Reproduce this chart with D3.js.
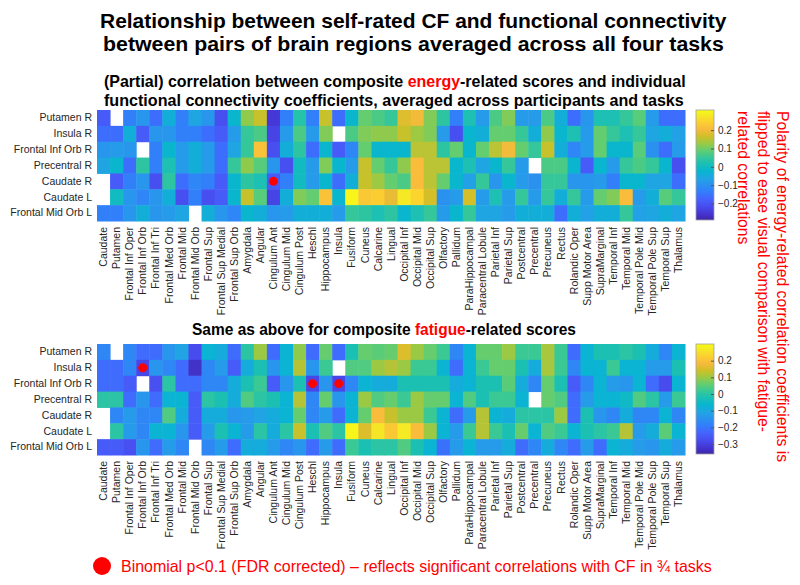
<!DOCTYPE html>
<html><head><meta charset="utf-8">
<script src="https://cdn.jsdelivr.net/npm/d3@7"></script>
<style>body{margin:0;background:#fff;} svg{display:block;font-family:"Liberation Sans",Arial,sans-serif;}</style>
</head><body><svg id="c" width="800" height="585"></svg>
<script>
const rowLabels = ["Putamen R","Insula R","Frontal Inf Orb R","Precentral R","Caudate R","Caudate L","Frontal Mid Orb L"];
const colLabels = ["Caudate","Putamen","Frontal Inf Oper","Frontal Inf Orb","Frontal Inf Tri","Frontal Med Orb","Frontal Mid","Frontal Mid Orb","Frontal Sup","Frontal Sup Medial","Frontal Sup Orb","Amygdala","Angular","Cingulum Ant","Cingulum Mid","Cingulum Post","Heschl","Hippocampus","Insula","Fusiform","Cuneus","Calcarine","Lingual","Occipital Inf","Occipital Mid","Occipital Sup","Olfactory","Pallidum","ParaHippocampal","Paracentral Lobule","Parietal Inf","Parietal Sup","Postcentral","Precentral","Precuneus","Rectus","Rolandic Oper","Supp Motor Area","SupraMarginal","Temporal Inf","Temporal Mid","Temporal Pole Mid","Temporal Pole Sup","Temporal Sup","Thalamus"];

// energy-related (polarity flipped) correlations, one array per row
const energyPutamenR = [-0.19,null,-0.13,-0.09,-0.16,-0.04,-0.13,-0.06,-0.09,-0.21,-0.02,0.12,0.16,-0.25,-0.13,0.03,-0.13,0.16,-0.16,-0.02,0.09,0.07,0.05,0.18,0.2,0.11,0.04,-0.13,0.02,-0.08,0.07,0.11,-0.08,-0.08,0.07,-0.04,-0.16,-0.09,0.02,0.02,0.05,0.08,-0.08,-0.16,-0.16];
const energyInsulaR = [-0.16,-0.16,-0.04,-0.19,-0.09,-0.09,-0.13,-0.13,-0.16,-0.19,-0.08,0.05,0.07,-0.23,-0.08,0.07,-0.08,0.11,null,0.07,0.11,0.12,0.12,0.16,0.13,0.11,-0.08,-0.21,-0.02,-0.04,0.09,0.09,0.05,-0.04,0.12,-0.02,0.02,-0.08,0.09,0.05,0.02,0.05,-0.06,-0.04,-0.07];
const energyFrontalInfOrbR = [-0.09,-0.08,-0.09,null,-0.13,-0.02,-0.08,-0.04,-0.08,-0.16,-0.06,0.05,0.22,-0.21,-0.04,0.04,-0.16,-0.02,-0.19,-0.12,0.09,-0.02,-0.02,-0.02,0.15,0.15,0.04,0.09,-0.02,0.09,0.15,0.2,0.09,0.05,0.16,-0.04,-0.12,-0.08,0.09,-0.02,-0.02,0.08,-0.1,-0.16,-0.08];
const energyPrecentralR = [-0.06,-0.02,-0.16,0.04,-0.13,0.02,-0.08,-0.04,-0.08,-0.16,0.05,0.12,0.08,-0.09,-0.21,0.0,-0.08,0.11,-0.02,-0.08,0.16,0.09,0.05,0.12,0.21,0.15,0.15,-0.02,0.02,-0.06,-0.02,0.05,-0.08,null,0.07,0.07,-0.02,-0.19,-0.02,-0.08,0.05,0.07,0.05,-0.02,-0.21];
const energyCaudateR = [null,-0.19,-0.13,-0.09,-0.21,0.04,-0.16,-0.12,-0.13,-0.19,-0.02,0.04,0.02,-0.19,-0.13,0.0,-0.08,-0.02,-0.16,-0.04,0.16,0.13,0.09,0.07,0.21,0.15,0.09,-0.02,-0.07,0.05,-0.09,-0.02,-0.08,-0.1,0.05,0.05,-0.09,-0.09,-0.08,-0.13,-0.02,-0.02,-0.06,-0.06,-0.16];
const energyCaudateL = [null,0.0,-0.09,-0.12,-0.09,-0.04,-0.21,-0.13,-0.21,-0.19,-0.02,0.16,0.08,-0.23,-0.04,0.11,0.09,0.22,-0.02,0.30,0.23,0.24,0.19,0.28,0.25,0.17,-0.1,-0.08,0.17,-0.08,0.02,-0.08,0.05,-0.08,0.05,-0.04,0.05,-0.08,0.09,0.11,0.21,-0.08,-0.04,0.08,0.05];
const energyFrontalMidOrbL = [-0.13,-0.13,-0.09,-0.04,-0.09,-0.08,-0.06,null,-0.04,-0.09,-0.12,-0.02,-0.04,-0.09,-0.08,-0.04,-0.04,-0.04,-0.08,0.05,0.04,0.02,0.04,-0.02,0.02,0.05,-0.08,-0.02,0.05,-0.06,-0.06,-0.08,-0.04,-0.04,-0.04,-0.16,-0.04,-0.07,-0.04,-0.04,0.05,-0.07,-0.06,-0.04,-0.06];

// fatigue-related correlations, one array per row
const fatiguePutamenR = [-0.17,null,-0.17,-0.22,-0.22,-0.14,-0.11,-0.28,-0.07,-0.09,-0.22,0.0,0.1,-0.22,-0.07,0.09,-0.22,0.06,-0.22,-0.02,0.06,0.05,0.06,0.155,0.1,0.06,0.02,-0.17,-0.07,0.06,0.06,0.1,0.02,0.02,0.11,0.02,-0.22,-0.07,-0.02,-0.02,0.0,-0.02,-0.09,-0.17,-0.07];
const fatigueInsulaR = [-0.22,-0.22,-0.17,-0.29,-0.14,-0.17,-0.22,-0.33,-0.17,-0.13,-0.25,-0.09,-0.02,-0.14,-0.07,0.12,-0.14,0.02,null,0.04,0.04,0.1,0.12,0.1,0.02,0.02,-0.07,-0.22,-0.07,0.02,0.06,0.06,-0.02,-0.09,0.11,0.02,-0.17,-0.07,-0.07,0.02,-0.07,-0.07,-0.13,-0.13,-0.02];
const fatigueFrontalInfOrbR = [-0.22,-0.22,-0.25,null,-0.27,0.0,-0.22,-0.22,-0.17,-0.17,-0.09,-0.02,0.02,-0.25,-0.14,-0.02,-0.29,-0.14,-0.29,-0.17,-0.07,-0.09,-0.09,-0.02,-0.02,-0.02,-0.02,-0.09,-0.07,-0.02,-0.02,0.05,-0.09,-0.17,0.06,-0.02,-0.25,-0.17,-0.07,-0.13,-0.14,-0.07,-0.22,-0.28,-0.07];
const fatiguePrecentralR = [0.0,0.0,-0.22,-0.14,-0.22,-0.07,-0.07,-0.25,0.0,-0.02,-0.09,0.04,0.0,-0.02,-0.07,0.12,-0.17,0.06,-0.14,-0.07,0.1,0.04,0.06,0.02,0.1,0.06,0.06,-0.07,0.04,-0.02,0.02,0.02,-0.07,null,0.06,0.04,-0.22,-0.13,-0.07,-0.07,-0.05,0.04,0.0,-0.13,0.02];
const fatigueCaudateR = [null,-0.17,-0.13,-0.17,-0.17,0.04,-0.09,-0.25,-0.09,-0.09,-0.14,-0.13,-0.11,-0.09,-0.07,0.06,-0.17,-0.13,-0.22,-0.07,0.06,0.19,0.135,0.1,0.1,0.02,-0.07,-0.22,-0.13,0.12,-0.07,-0.09,0.0,0.0,0.0,0.1,-0.22,-0.02,-0.14,-0.17,-0.09,-0.17,-0.17,-0.07,-0.17];
const fatigueCaudateL = [null,0.0,-0.13,-0.17,-0.07,-0.07,-0.14,-0.25,-0.13,-0.02,-0.07,-0.13,0.0,-0.09,0.0,0.135,-0.02,0.04,0.0,0.29,0.155,0.26,0.21,0.27,0.19,0.1,-0.07,-0.13,0.02,0.12,0.02,-0.02,0.06,-0.07,0.04,0.02,-0.07,-0.02,0.0,0.02,0.12,-0.13,-0.09,0.05,-0.07];
const fatigueFrontalMidOrbL = [-0.25,-0.25,-0.27,-0.14,-0.22,-0.13,-0.17,null,-0.17,-0.13,-0.22,-0.09,-0.09,-0.13,-0.17,-0.14,-0.22,-0.13,-0.22,0.02,-0.02,0.0,0.0,0.04,-0.02,-0.07,-0.21,-0.13,-0.07,-0.13,-0.13,-0.09,-0.22,-0.17,-0.09,-0.17,-0.22,-0.13,-0.22,-0.07,-0.09,-0.13,-0.14,-0.09,-0.13];

const energyRows = [energyPutamenR, energyInsulaR, energyFrontalInfOrbR, energyPrecentralR, energyCaudateR, energyCaudateL, energyFrontalMidOrbL];
const fatigueRows = [fatiguePutamenR, fatigueInsulaR, fatigueFrontalInfOrbR, fatiguePrecentralR, fatigueCaudateR, fatigueCaudateL, fatigueFrontalMidOrbL];

const energyDomain = [-0.29, 0.31];
const fatigueDomain = [-0.36, 0.30];
const energyTicks = [0.2, 0.1, 0, -0.1, -0.2];
const fatigueTicks = [0.2, 0.1, 0, -0.1, -0.2, -0.3];
// significant cells [row, column]
const energySig = [["Caudate R","Cingulum Ant"]];
const fatigueSig = [["Insula R","Frontal Inf Orb"],["Frontal Inf Orb R","Heschl"],["Frontal Inf Orb R","Insula"]];

const parulaPos = [0,4,8,12,16,20,24,28,32,36,40,44,48,52,56,60,63].map(k => k/63);
const parulaCol = ["#3e26a8","#4537d5","#484df0","#4563fd","#327cfc","#2b91ef","#20a5e3","#08b5d0","#19bfb6","#37c897","#64cd6f","#9dc943","#d1bf27","#f8ba3d","#fccf30","#f5e924","#f9fb15"];
const parula = d3.scaleLinear().domain(parulaPos).range(parulaCol).interpolate(d3.interpolateRgb).clamp(true);

const svg = d3.select("#c");
svg.append("rect").attr("width",800).attr("height",585).attr("fill","#fff");
const defs = svg.append("defs");

const X0 = 97, X1 = 685, HM_H = 111;
const LABEL_COL = "#262626";
const TITLE_FONT = "'Liberation Sans Narrow', 'Liberation Sans', Arial, sans-serif";

function fitText(t, x, y, width) {
  const w = t.node().getComputedTextLength();
  const s = width / w;
  t.attr("x", 0).attr("y", 0).attr("text-anchor","start")
   .attr("transform", `translate(${x},${y}) scale(${s},1)`);
}

function drawHeatmap(rows, domain, ticks, sig, top, gid) {
  const g = svg.append("g");
  const x = d3.scaleBand().domain(colLabels).range([X0, X1]);
  const y = d3.scaleBand().domain(rowLabels).range([top, top + HM_H]);
  const v2t = d3.scaleLinear().domain(domain).range([0,1]);
  const cells = [];
  rows.forEach((r, i) => r.forEach((v, j) => { if (v !== null) cells.push({r: rowLabels[i], c: colLabels[j], v}); }));
  g.selectAll("rect.cell").data(cells).join("rect").attr("class","cell")
    .attr("x", d => x(d.c)).attr("y", d => y(d.r))
    .attr("width", x.bandwidth() + 0.5).attr("height", y.bandwidth() + 0.5)
    .attr("fill", d => parula(v2t(d.v)));
  g.selectAll("circle.sig").data(sig).join("circle").attr("class","sig")
    .attr("cx", d => x(d[1]) + x.bandwidth()/2).attr("cy", d => y(d[0]) + y.bandwidth()/2)
    .attr("r", 4.5).attr("fill", "#ff0000");

  const ya = g.append("g").attr("transform", `translate(${X0},0)`)
    .call(d3.axisLeft(y).tickSize(0).tickPadding(5));
  ya.select(".domain").remove();
  ya.selectAll("text").attr("font-size","10.5px").attr("font-family","Liberation Sans, Arial, sans-serif").attr("fill",LABEL_COL);

  const xa = g.append("g").attr("transform", `translate(0,${top + HM_H})`)
    .call(d3.axisBottom(x).tickSize(0));
  xa.select(".domain").remove();
  xa.selectAll("text").attr("font-size","10.5px").attr("font-family","Liberation Sans, Arial, sans-serif").attr("fill",LABEL_COL)
    .attr("text-anchor","end").attr("x",-6).attr("y",0).attr("dy","0.35em").attr("transform","rotate(-90)");

  // colorbar
  const cbX = 696, cbW = 18, cbTop = top, cbBot = top + HM_H - 1;
  const grad = defs.append("linearGradient").attr("id", gid).attr("x1",0).attr("y1",1).attr("x2",0).attr("y2",0);
  grad.selectAll("stop").data(parulaPos).join("stop")
    .attr("offset", d => d).attr("stop-color", (d,i) => parulaCol[i]);
  g.append("rect").attr("x", cbX).attr("y", cbTop).attr("width", cbW).attr("height", cbBot - cbTop)
    .attr("fill", `url(#${gid})`).attr("stroke","#a0a0a0").attr("stroke-width",0.8);
  const cy = d3.scaleLinear().domain(domain).range([cbBot, cbTop]);
  const ca = g.append("g").attr("transform", `translate(${cbX + cbW},0)`)
    .call(d3.axisRight(cy).tickValues(ticks).tickSize(-3).tickPadding(4).tickFormat(d => d === 0 ? "0" : d3.format(".1f")(d)));
  ca.select(".domain").remove();
  ca.selectAll("line").attr("stroke","#555");
  ca.selectAll("text").attr("font-size","10px").attr("font-family","Liberation Sans, Arial, sans-serif").attr("fill",LABEL_COL);
}

// Titles
const t1 = svg.append("text").attr("font-size","21px").attr("font-weight","bold").attr("font-family",TITLE_FONT).attr("fill","#000")
  .text("Relationship between self-rated CF and functional connectivity");
fitText(t1, 100, 28, 627);
const t2 = svg.append("text").attr("font-size","21px").attr("font-weight","bold").attr("font-family",TITLE_FONT).attr("fill","#000")
  .text("between pairs of brain regions averaged across all four tasks");
fitText(t2, 103, 51, 621);

const s1 = svg.append("text").attr("font-size","16.5px").attr("font-weight","bold").attr("font-family",TITLE_FONT).attr("fill","#000");
s1.append("tspan").text("(Partial) correlation between composite ");
s1.append("tspan").attr("fill","#ff0000").text("energy");
s1.append("tspan").text("-related scores and individual");
fitText(s1, 104, 87, 582);
const s2 = svg.append("text").attr("font-size","16.5px").attr("font-weight","bold").attr("font-family",TITLE_FONT).attr("fill","#000")
  .text("functional connectivity coefficients, averaged across participants and tasks");
fitText(s2, 104, 106, 580);

const s3 = svg.append("text").attr("font-size","16.5px").attr("font-weight","bold").attr("font-family",TITLE_FONT).attr("fill","#000");
s3.append("tspan").text("Same as above for composite ");
s3.append("tspan").attr("fill","#ff0000").text("fatigue");
s3.append("tspan").text("-related scores");
fitText(s3, 192, 335, 384);

drawHeatmap(energyRows, energyDomain, energyTicks, energySig, 110, "cb1");
drawHeatmap(fatigueRows, fatigueDomain, fatigueTicks, fatigueSig, 344, "cb2");

// rotated red note
const noteLines = ["Polarity of energy-related correlation coefficients is","flipped to ease visual comparison with fatigue-","related correlations"];
const noteX = [777, 758, 738];
noteLines.forEach((s, i) => {
  svg.append("text").attr("font-size","15.7px").attr("fill","#ff0000")
    .attr("transform", `translate(${noteX[i]},111) rotate(90)`).text(s);
});

// legend
svg.append("circle").attr("cx",102).attr("cy",566).attr("r",9).attr("fill","#ff0000");
const lg = svg.append("text").attr("font-size","16px").attr("fill","#ff0000")
  .text("Binomial p<0.1 (FDR corrected) \u2013 reflects significant correlations with CF in \u00be tasks");
fitText(lg, 121, 571.5, 591);
</script></body></html>
